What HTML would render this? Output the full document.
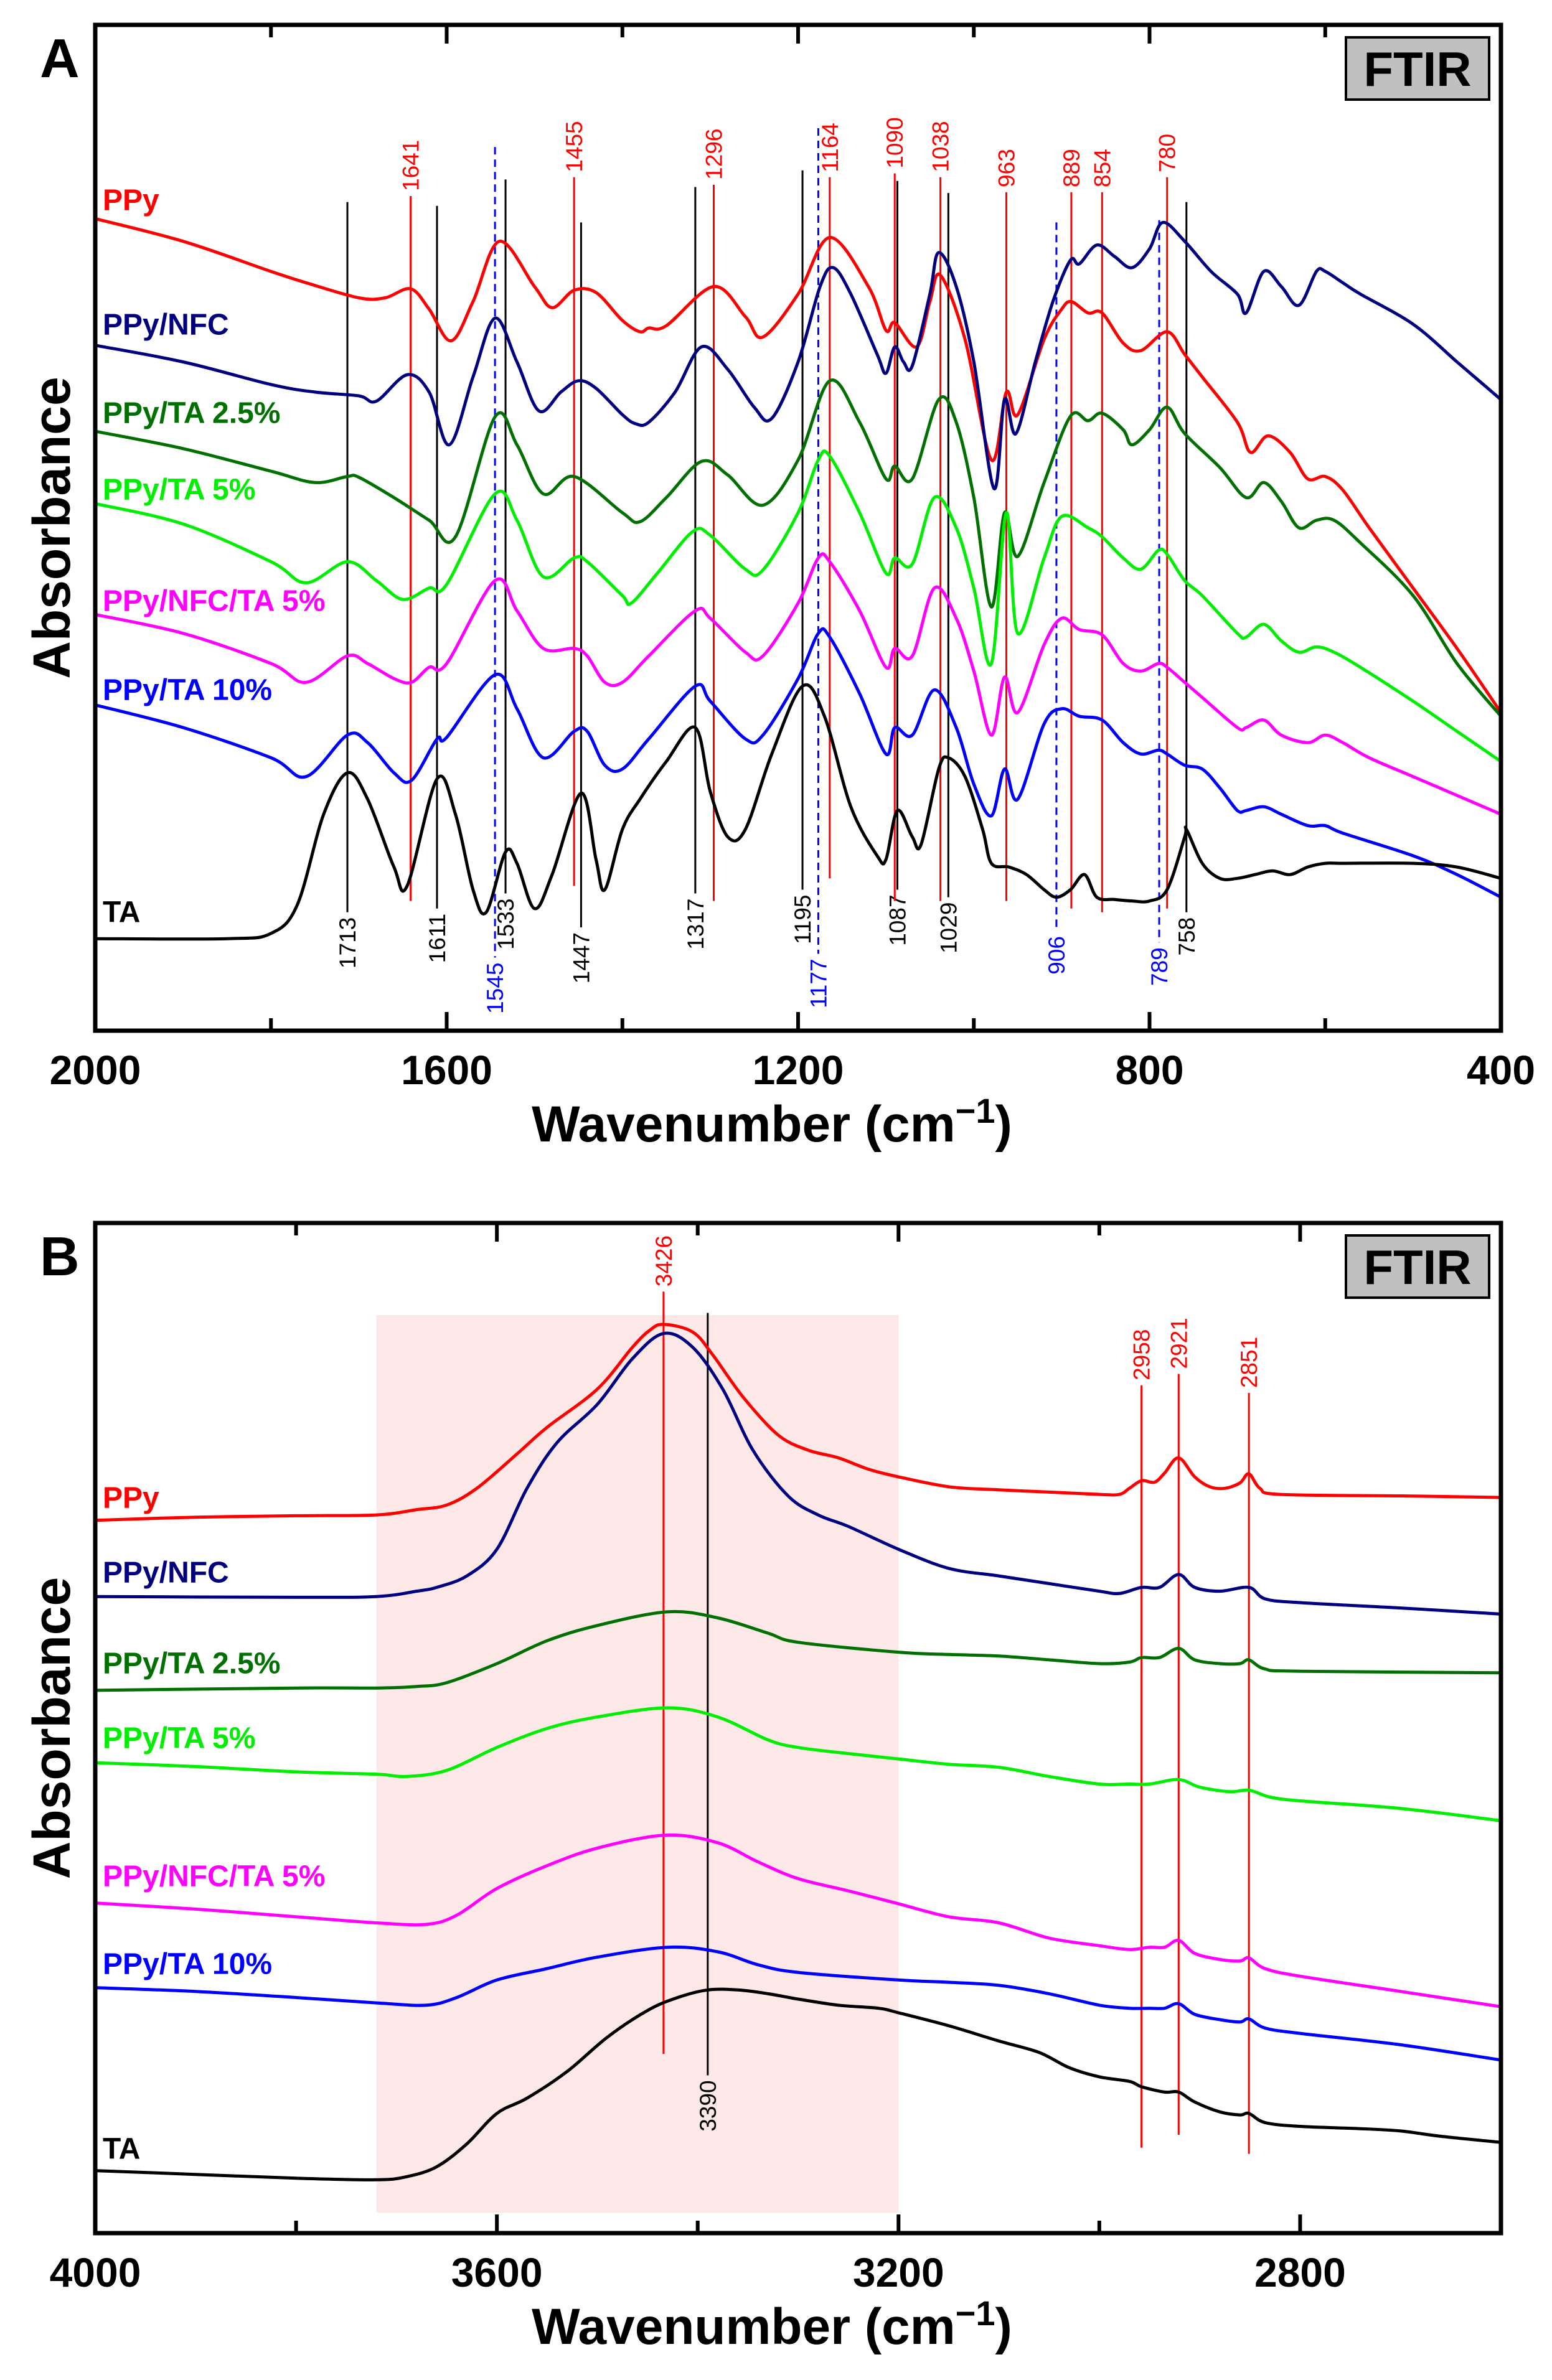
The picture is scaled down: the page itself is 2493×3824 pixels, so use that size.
<!DOCTYPE html>
<html><head><meta charset="utf-8"><style>
html,body{margin:0;padding:0;background:#fff;}
svg{display:block;font-family:"Liberation Sans",Arial,sans-serif;}
</style></head><body>
<svg id="chart" xmlns="http://www.w3.org/2000/svg" width="2493" height="3824" viewBox="0 0 2493 3824">
<g id="panelA"></g>
<g id="panelB"></g>
</svg>
<script>
// ---------- Panel A data (wavenumber cm-1, absorbance a.u.) ----------
const aPPyW=[2000,1900,1800,1760,1700,1670,1641,1620,1595,1570,1540,1500,1480,1455,1430,1400,1380,1370,1350,1296,1260,1240,1200,1164,1120,1100,1090,1065,1050,1038,1010,980,963,950,920,900,889,870,854,830,810,780,760,740,700,685,665,640,620,600,580,550,500,450,400];
const aPPyV=[1110,1080,1040,1025,1005,1005,1017,990,948,1000,1080,1020,992,1015,1012,975,960,965,968,1020,980,953,1010,1085,1020,962,972,940,1000,1035,950,790,880,850,950,990,1000,985,985,945,935,960,930,900,840,800,822,800,765,768,750,700,620,540,455];
const aNFCW=[2000,1900,1800,1750,1700,1680,1645,1620,1597,1570,1545,1520,1495,1470,1450,1430,1400,1385,1370,1340,1310,1280,1250,1230,1200,1175,1160,1140,1110,1100,1090,1080,1070,1050,1040,1020,1000,977,965,952,930,910,890,880,860,840,820,800,785,760,730,700,690,670,650,630,610,600,580,560,500,450,420,400];
const aNFCV=[942,920,890,880,875,868,903,880,810,900,978,920,855,880,895,885,850,838,840,880,940,910,860,845,920,1020,1045,1010,930,905,940,920,915,1010,1065,1020,920,752,870,825,920,1000,1055,1050,1075,1060,1045,1070,1105,1080,1040,1010,985,1040,1020,995,1040,1040,1025,1010,970,920,890,870];
const aTA25W=[2000,1900,1800,1750,1713,1700,1660,1620,1590,1545,1520,1490,1455,1400,1380,1350,1310,1280,1240,1200,1164,1130,1100,1090,1070,1040,1020,1000,980,965,950,920,890,870,854,830,820,800,780,760,720,690,670,650,630,610,590,560,500,450,400];
const aTA25V=[828,805,775,760,768,767,740,710,688,847,810,745,768,720,708,740,788,770,730,790,895,840,765,782,765,870,840,740,595,720,662,760,848,842,852,830,810,830,860,825,780,740,760,735,700,710,710,680,610,520,450];
const aTA5W=[2000,1900,1800,1760,1713,1680,1650,1620,1600,1545,1520,1490,1455,1440,1400,1390,1360,1320,1300,1260,1240,1200,1177,1164,1130,1100,1090,1070,1045,1020,1000,980,963,950,920,900,870,854,830,810,790,780,760,740,700,690,670,650,630,610,590,560,500,450,400];
const aTA5V=[732,705,655,627,655,630,605,620,625,745,710,635,660,655,610,600,640,695,690,645,644,720,790,795,720,640,660,652,740,700,620,520,720,560,660,715,700,688,660,645,670,665,630,610,560,555,572,550,535,542,535,515,470,430,390];
const aNTA5W=[2000,1900,1800,1760,1713,1690,1660,1640,1620,1600,1545,1520,1490,1455,1440,1420,1400,1370,1317,1300,1260,1240,1200,1177,1164,1130,1100,1090,1070,1045,1020,1000,980,965,950,920,900,880,854,830,810,790,780,760,740,700,690,670,650,620,600,580,550,500,450,400];
const aNTA5V=[585,560,520,495,530,520,500,495,515,520,630,590,540,540,530,495,495,530,590,580,535,530,600,660,655,590,515,540,530,620,580,510,425,502,455,545,580,565,558,520,510,520,515,495,475,435,435,445,425,415,425,415,395,370,345,320];
const aTA10W=[2000,1900,1800,1760,1713,1690,1660,1640,1611,1600,1545,1520,1490,1455,1440,1420,1400,1370,1317,1300,1260,1240,1200,1177,1164,1130,1100,1090,1070,1045,1020,1000,980,965,950,920,900,880,854,830,810,790,780,760,740,720,700,690,670,650,620,600,580,500,450,400];
const aTA10V=[465,435,395,370,425,415,375,365,420,422,505,460,395,430,430,385,380,420,490,470,420,425,500,560,555,480,400,435,425,485,435,360,318,380,340,440,460,450,445,415,400,405,400,385,380,355,325,325,330,320,305,305,295,265,240,210];
const aTAW=[2000,1850,1800,1770,1740,1713,1690,1660,1645,1611,1590,1570,1555,1533,1520,1500,1480,1447,1430,1420,1400,1380,1350,1317,1300,1280,1260,1230,1195,1170,1140,1110,1100,1087,1070,1060,1040,1029,1010,990,980,960,940,920,906,890,874,860,840,820,800,780,760,758,740,720,700,680,660,640,620,600,580,500,450,400];
const aTAV=[155,155,162,200,320,375,340,250,225,367,320,220,190,270,255,195,240,348,260,220,300,340,390,435,350,290,300,400,490,450,330,265,260,325,290,280,380,395,370,300,255,250,240,220,210,220,240,210,207,205,205,220,290,300,255,235,235,240,245,240,250,255,255,255,250,235];
const aPeakBlack=[1713,1611,1533,1447,1317,1195,1087,1029,758];
const aPeakBlackTop=[1132,1127,1162,1105,1152,1174,1160,1144,1132];
const aPeakBlackBot=[190,195,215,170,215,220,220,210,190];
const aPeakRed=[1641,1455,1296,1164,1090,1038,963,889,854,780];
const aPeakRedTop=[1140,1165,1155,1165,1170,1165,1145,1145,1145,1165];
const aPeakRedBot=[205,225,205,235,205,205,205,195,190,195];
const aPeakBlue=[1545,1177,906,789];
const aPeakBlueTop=[1205,1230,1105,1108];
const aPeakBlueBot=[130,135,165,150];
const aTicks=[2000,1600,1200,800,400];

// ---------- Panel B data ----------
const bPPyW=[4000,3900,3800,3720,3680,3650,3620,3580,3550,3500,3465,3448,3434,3405,3385,3355,3320,3290,3260,3230,3200,3150,3100,3050,3000,2980,2970,2958,2945,2935,2921,2905,2890,2875,2860,2851,2840,2820,2700,2600];
const bPPyV=[958,962,964,965,972,978,1000,1045,1080,1130,1185,1207,1215,1205,1175,1120,1070,1050,1040,1025,1015,1002,998,995,992,992,1000,1010,1008,1020,1040,1015,1002,1000,1007,1019,1000,992,990,988];
const bNFCW=[4000,3800,3720,3680,3660,3630,3600,3570,3540,3500,3465,3434,3405,3375,3345,3310,3280,3250,3200,3150,3100,3050,3000,2980,2958,2940,2921,2905,2880,2851,2835,2800,2700,2600];
const bNFCV=[858,857,858,865,870,885,920,1000,1060,1110,1170,1203,1185,1130,1050,990,965,950,920,895,885,875,865,862,870,870,887,870,865,870,855,850,843,835];
const bTA25W=[4000,3800,3720,3680,3650,3600,3550,3500,3430,3380,3330,3300,3200,3150,3100,3050,3000,2970,2958,2940,2921,2905,2880,2860,2851,2835,2800,2600];
const bTA25V=[735,738,738,740,745,770,800,820,838,830,810,798,785,782,780,775,770,772,778,778,790,775,770,770,775,763,760,758];
const bTA5W=[4000,3900,3800,3720,3690,3650,3600,3550,3500,3430,3380,3330,3300,3250,3200,3150,3100,3050,3000,2970,2950,2921,2900,2870,2851,2830,2800,2700,2600];
const bTA5V=[640,635,628,625,622,630,660,685,700,712,700,670,660,652,645,638,634,622,612,612,612,618,608,602,604,595,590,580,564];
const bNTA5W=[4000,3900,3800,3720,3670,3640,3600,3550,3500,3432,3380,3340,3300,3250,3200,3150,3100,3050,3000,2970,2950,2935,2921,2905,2880,2860,2851,2835,2800,2700,2600];
const bNTA5V=[456,448,438,430,428,440,475,505,528,545,535,510,488,472,455,438,430,410,400,395,398,398,407,390,382,380,384,370,360,340,320];
const bTA10W=[4000,3900,3800,3720,3670,3640,3600,3550,3500,3430,3380,3340,3300,3200,3150,3100,3050,3000,2970,2950,2935,2921,2905,2880,2860,2851,2835,2800,2700,2600];
const bTA10V=[345,340,332,325,322,332,355,370,385,398,392,375,365,355,352,348,337,322,318,318,318,324,310,303,300,304,292,285,270,250];
const bTAW=[4000,3900,3800,3720,3690,3660,3630,3600,3570,3530,3490,3450,3420,3390,3360,3330,3300,3260,3220,3200,3150,3100,3060,3030,3000,2970,2958,2935,2921,2905,2880,2860,2851,2835,2800,2740,2700,2660,2600];
const bTAV=[105,100,95,93,97,110,140,180,200,235,280,315,332,342,342,337,330,322,318,312,295,275,260,240,228,222,215,208,208,195,182,178,180,168,163,160,157,150,142];
const bPeakRed=[3426,2958,2921,2851];
const bPeakRedAt=[3434,2958,2921,2851];
const bPeakRedTop=[1258,1135,1150,1125];
const bPeakRedBot=[258,135,152,127];
const bPeakBlack=[3390];
const bPeakBlackTop=[1230];
const bPeakBlackBot=[230];
const bShade=[3720,3200];
const bTicks=[4000,3600,3200,2800];

const NS='http://www.w3.org/2000/svg';
function mk(parent,tag,attrs,text){const e=document.createElementNS(NS,tag);for(const k in attrs)e.setAttribute(k,attrs[k]);if(text!==undefined)e.textContent=text;parent.appendChild(e);return e;}
function smooth(pts){let d='M'+pts[0][0].toFixed(1)+','+pts[0][1].toFixed(1);for(let i=0;i<pts.length-1;i++){const p0=pts[i-1]||pts[i],p1=pts[i],p2=pts[i+1],p3=pts[i+2]||p2;const c1x=p1[0]+(p2[0]-p0[0])/6,c1y=p1[1]+(p2[1]-p0[1])/6,c2x=p2[0]-(p3[0]-p1[0])/6,c2y=p2[1]-(p3[1]-p1[1])/6;d+=' C'+c1x.toFixed(1)+','+c1y.toFixed(1)+' '+c2x.toFixed(1)+','+c2y.toFixed(1)+' '+p2[0].toFixed(1)+','+p2[1].toFixed(1);}return d;}

function panel(g,cfg){
  const L=153,R=2411,T=cfg.top,B=cfg.bottom;
  const xs=w=>L+(cfg.xmax-w)/(cfg.xmax-cfg.xmin)*(R-L);
  const ys=v=>T+(cfg.vmax-v)/(cfg.vmax-cfg.vmin)*(B-T);
  if(cfg.shade){const r=mk(g,'rect',{x:xs(cfg.shade[0]),y:cfg.shadeY[0],width:xs(cfg.shade[1])-xs(cfg.shade[0]),height:cfg.shadeY[1]-cfg.shadeY[0],fill:'#fde8e8'});
    
    }
  cfg.peaks.forEach(pk=>{pk.w.forEach((w,i)=>{
    const x=xs(pk.at?pk.at[i]:w),y1=ys(pk.top[i]),y2=ys(pk.bot[i]);
    const ln=mk(g,'line',{x1:x,x2:x,y1:y1,y2:y2,stroke:pk.color,'stroke-width':3,'stroke-dasharray':pk.dash||'none'});
    
    
    let tx,ty,anchor;
    if(pk.labelAbove){ty=y1-8;anchor='start';}else{ty=y2+8;anchor='end';}
    tx=x+13;
    const t=mk(g,'text',{x:tx,y:ty,fill:pk.color,'font-size':37,'text-anchor':anchor,transform:'rotate(-90 '+tx+' '+ty+')'},String(w));
    
    
  });});
  cfg.series.forEach(s=>{
    const pts=s.w.map((w,i)=>[xs(w),ys(s.v[i])]);
    const p=mk(g,'path',{d:smooth(pts),fill:'none',stroke:s.color,'stroke-width':5,'stroke-linejoin':'round'});
    
    
    const t=mk(g,'text',{x:165,y:s.ly,fill:s.color,'font-size':48,'font-weight':'bold','dominant-baseline':'middle'},s.name);
    
    
  });
  const f=mk(g,'rect',{x:L,y:T,width:R-L,height:B-T,fill:'none',stroke:'#000','stroke-width':7});
  
  
  for(let w=cfg.xmax;w>=cfg.xmin;w-=200){
    const x=xs(w);const major=cfg.ticks.indexOf(w)>=0;const len=major?30:20;
    const t1=mk(g,'line',{x1:x,x2:x,y1:B,y2:B-len,stroke:'#000','stroke-width':6});
    
    
    const t2=mk(g,'line',{x1:x,x2:x,y1:T,y2:T+len,stroke:'#000','stroke-width':6});
    
    
  }
  cfg.ticks.forEach(w=>{
    const t=mk(g,'text',{x:xs(w),y:B+86,'font-size':66,'font-weight':'bold','text-anchor':'middle',fill:'#000'},String(w));
    
    
  });
  const xt=mk(g,'text',{x:1240,y:B+178,'font-size':82,'font-weight':'bold','text-anchor':'middle',fill:'#000'});
  
  
  xt.innerHTML='Wavenumber (cm<tspan dy="-30" font-size="56">−1</tspan><tspan dy="30">)</tspan>';
  const yt=mk(g,'text',{x:112,y:(T+B)/2,'font-size':84,'font-weight':'bold','text-anchor':'middle',fill:'#000',transform:'rotate(-90 112 '+((T+B)/2)+')'},'Absorbance');
  
  
  const pl=mk(g,'text',{x:64,y:T+84,'font-size':88,'font-weight':'bold',fill:'#000'},cfg.letter);
  
  
  const bx=mk(g,'rect',{x:2162,y:T+20,width:230,height:100,fill:'#c0c0c0',stroke:'#000','stroke-width':4});
  
  
  const bt=mk(g,'text',{x:2277,y:T+98,'font-size':78,'font-weight':'bold','text-anchor':'middle',fill:'#000'},'FTIR');
  
  
}

panel(document.getElementById('panelA'),{top:40,bottom:1656,xmax:2000,xmin:400,vmax:1367,vmin:33,letter:'A',ticks:aTicks,
  series:[
   {id:'ppy',name:'PPy',color:'#ff0000',w:aPPyW,v:aPPyV,ly:325},
   {id:'ppy-nfc',name:'PPy/NFC',color:'#000080',w:aNFCW,v:aNFCV,ly:525},
   {id:'ppy-ta-2-5',name:'PPy/TA 2.5%',color:'#007000',w:aTA25W,v:aTA25V,ly:667},
   {id:'ppy-ta-5',name:'PPy/TA 5%',color:'#00ee00',w:aTA5W,v:aTA5V,ly:790},
   {id:'ppy-nfc-ta-5',name:'PPy/NFC/TA 5%',color:'#ff00ff',w:aNTA5W,v:aNTA5V,ly:969},
   {id:'ppy-ta-10',name:'PPy/TA 10%',color:'#0000ff',w:aTA10W,v:aTA10V,ly:1112},
   {id:'ta',name:'TA',color:'#000000',w:aTAW,v:aTAV,ly:1469}],
  peaks:[
   {w:aPeakBlack,top:aPeakBlackTop,bot:aPeakBlackBot,color:'#000',labelAbove:false},
   {w:aPeakRed,top:aPeakRedTop,bot:aPeakRedBot,color:'#ff0000',labelAbove:true},
   {w:aPeakBlue,top:aPeakBlueTop,bot:aPeakBlueBot,color:'#0000ff',labelAbove:false,dash:'12 8'}]
});
panel(document.getElementById('panelB'),{top:1965,bottom:3588,xmax:4000,xmin:2600,vmax:1348,vmin:23,letter:'B',ticks:bTicks,
  shade:bShade,shadeY:[2113,3555],
  series:[
   {id:'ppy',name:'PPy',color:'#ff0000',w:bPPyW,v:bPPyV,ly:2410},
   {id:'ppy-nfc',name:'PPy/NFC',color:'#000080',w:bNFCW,v:bNFCV,ly:2530},
   {id:'ppy-ta-2-5',name:'PPy/TA 2.5%',color:'#007000',w:bTA25W,v:bTA25V,ly:2676},
   {id:'ppy-ta-5',name:'PPy/TA 5%',color:'#00ee00',w:bTA5W,v:bTA5V,ly:2796},
   {id:'ppy-nfc-ta-5',name:'PPy/NFC/TA 5%',color:'#ff00ff',w:bNTA5W,v:bNTA5V,ly:3018},
   {id:'ppy-ta-10',name:'PPy/TA 10%',color:'#0000ff',w:bTA10W,v:bTA10V,ly:3159},
   {id:'ta',name:'TA',color:'#000000',w:bTAW,v:bTAV,ly:3456}],
  peaks:[
   {w:bPeakRed,at:bPeakRedAt,top:bPeakRedTop,bot:bPeakRedBot,color:'#ff0000',labelAbove:true},
   {w:bPeakBlack,top:bPeakBlackTop,bot:bPeakBlackBot,color:'#000',labelAbove:false}]
});
</script>
</body></html>
